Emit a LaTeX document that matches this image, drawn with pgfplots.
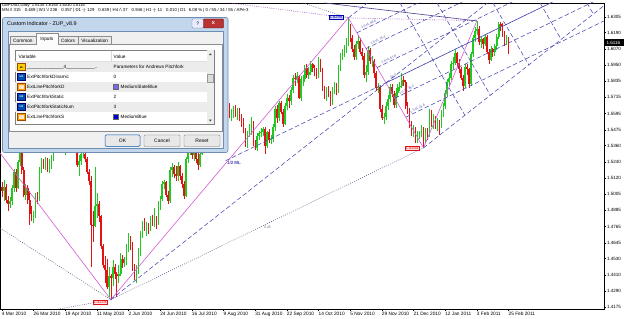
\documentclass[border=0pt]{standalone}
\usepackage{pgfplots}
\pgfplotsset{compat=1.18}
\usepackage{pgfplotstable}
\usepackage{fontspec}
\setmainfont{Liberation Sans}
\newcommand\fs[1]{\fontsize{#1}{#1}\selectfont}
\definecolor{cgreen}{HTML}{22C822}
\definecolor{cred}{HTML}{E01414}
\definecolor{pink}{HTML}{D65AD6}
\definecolor{pfblue}{HTML}{4848B4}
\definecolor{dotgray}{HTML}{56568C}
\definecolor{purpdot}{HTML}{A050C0}
\definecolor{slateline}{HTML}{4A3F8C}
\definecolor{frameblue}{HTML}{C3D7EC}
\definecolor{frameedge}{HTML}{6E8DB2}
\definecolor{rowgray}{HTML}{ECECEC}
\pgfplotsset{
  upc/.style={restrict expr to domain={\thisrow{c}-\thisrow{o}}{0:1}},
  dnc/.style={restrict expr to domain={\thisrow{c}-\thisrow{o}}{-1:-0.00001}},
  pfdash/.style={draw=pfblue, line width=0.55bp, dash pattern=on 4.5bp off 2.5bp},
  pfdot/.style={draw=dotgray, line width=0.55bp, dash pattern=on 0.8bp off 1.4bp},
}
\pgfplotstableread{
o h l c
1.5060 1.5095 1.4985 1.5030
1.5030 1.5110 1.4955 1.5060
1.5060 1.5075 1.4940 1.4960
1.4960 1.4990 1.4880 1.4930
1.4930 1.4985 1.4905 1.4950
1.4950 1.5070 1.4925 1.5050
1.5050 1.5190 1.5020 1.5170
1.5170 1.5185 1.5020 1.5050
1.5050 1.5255 1.5040 1.5240
1.5240 1.5330 1.5210 1.5310
1.5310 1.5320 1.5150 1.5180
1.5180 1.5200 1.4985 1.5000
1.5000 1.5080 1.4960 1.5050
1.5050 1.5070 1.4930 1.4960
1.4960 1.5030 1.4780 1.4860
1.4860 1.4920 1.4805 1.4840
1.4840 1.4880 1.4790 1.4850
1.4850 1.5010 1.4830 1.4990
1.4990 1.5020 1.4930 1.4960
1.4960 1.5200 1.4950 1.5180
1.5180 1.5270 1.5160 1.5240
1.5240 1.5260 1.5190 1.5220
1.5220 1.5280 1.5180 1.5250
1.5250 1.5270 1.5170 1.5200
1.5200 1.5260 1.5160 1.5240
1.5240 1.5290 1.5190 1.5270
1.5270 1.5380 1.5250 1.5360
1.5360 1.5400 1.5320 1.5380
1.5380 1.5420 1.5330 1.5380
1.5380 1.5490 1.5360 1.5470
1.5470 1.5520 1.5430 1.5480
1.5480 1.5490 1.5330 1.5350
1.5350 1.5400 1.5290 1.5380
1.5380 1.5440 1.5350 1.5410
1.5410 1.5430 1.5360 1.5390
1.5390 1.5410 1.5310 1.5330
1.5330 1.5450 1.5320 1.5420
1.5420 1.5480 1.5390 1.5410
1.5410 1.5420 1.5200 1.5220
1.5220 1.5290 1.5140 1.5250
1.5250 1.5330 1.5220 1.5300
1.5300 1.5350 1.5270 1.5300
1.5300 1.5340 1.5240 1.5260
1.5260 1.5280 1.5150 1.5170
1.5170 1.5190 1.5070 1.5100
1.5100 1.5140 1.4470 1.4780
1.4780 1.4880 1.4650 1.4770
1.4770 1.5200 1.4760 1.4920
1.4920 1.5010 1.4830 1.4930
1.4930 1.4950 1.4800 1.4840
1.4840 1.4850 1.4600 1.4620
1.4620 1.4640 1.4460 1.4480
1.4480 1.4550 1.4350 1.4450
1.4450 1.4530 1.4310 1.4320
1.4320 1.4470 1.4250 1.4400
1.4400 1.4420 1.4229 1.4390
1.4390 1.4520 1.4330 1.4470
1.4470 1.4490 1.4380 1.4420
1.4420 1.4430 1.4250 1.4400
1.4400 1.4480 1.4350 1.4420
1.4420 1.4570 1.4400 1.4530
1.4530 1.4560 1.4460 1.4500
1.4500 1.4540 1.4470 1.4520
1.4520 1.4640 1.4480 1.4620
1.4620 1.4720 1.4580 1.4660
1.4660 1.4700 1.4590 1.4630
1.4630 1.4650 1.4440 1.4460
1.4460 1.4490 1.4370 1.4430
1.4430 1.4480 1.4350 1.4450
1.4450 1.4610 1.4420 1.4590
1.4590 1.4730 1.4550 1.4710
1.4710 1.4810 1.4680 1.4790
1.4790 1.4830 1.4730 1.4760
1.4760 1.4800 1.4700 1.4780
1.4780 1.4790 1.4710 1.4750
1.4750 1.4840 1.4730 1.4820
1.4820 1.4850 1.4770 1.4800
1.4800 1.4900 1.4760 1.4810
1.4810 1.4840 1.4750 1.4800
1.4800 1.4950 1.4780 1.4930
1.4930 1.4990 1.4890 1.4970
1.4970 1.5100 1.4950 1.5080
1.5080 1.5110 1.5040 1.5090
1.5090 1.5100 1.4980 1.5000
1.5000 1.5030 1.4930 1.4950
1.4950 1.5200 1.4940 1.5180
1.5180 1.5230 1.5130 1.5200
1.5200 1.5220 1.5120 1.5150
1.5150 1.5210 1.5100 1.5140
1.5140 1.5240 1.5100 1.5210
1.5210 1.5220 1.5110 1.5140
1.5140 1.5160 1.5050 1.5080
1.5080 1.5100 1.4970 1.4990
1.4990 1.5280 1.4980 1.5260
1.5260 1.5350 1.5230 1.5330
1.5330 1.5430 1.5290 1.5380
1.5380 1.5400 1.5260 1.5290
1.5290 1.5400 1.5250 1.5380
1.5380 1.5390 1.5230 1.5260
1.5260 1.5310 1.5180 1.5220
1.5220 1.5330 1.5200 1.5300
1.5300 1.5510 1.5290 1.5480
1.5480 1.5570 1.5440 1.5540
1.5540 1.5580 1.5470 1.5500
1.5500 1.5580 1.5470 1.5550
1.5550 1.5650 1.5520 1.5620
1.5620 1.5710 1.5590 1.5690
1.5690 1.5870 1.5670 1.5850
1.5850 1.5930 1.5810 1.5900
1.5900 1.5950 1.5850 1.5920
1.5920 1.5960 1.5870 1.5940
1.5940 1.5990 1.5880 1.5920
1.5920 1.5960 1.5850 1.5880
1.5880 1.5900 1.5700 1.5720
1.5720 1.5750 1.5630 1.5650
1.5650 1.5670 1.5560 1.5580
1.5580 1.5630 1.5540 1.5600
1.5600 1.5650 1.5560 1.5610
1.5610 1.5660 1.5570 1.5590
1.5590 1.5640 1.5550 1.5600
1.5600 1.5640 1.5540 1.5570
1.5570 1.5590 1.5500 1.5540
1.5540 1.5560 1.5450 1.5470
1.5470 1.5490 1.5350 1.5370
1.5370 1.5470 1.5340 1.5450
1.5450 1.5520 1.5420 1.5480
1.5480 1.5570 1.5440 1.5530
1.5530 1.5540 1.5360 1.5380
1.5380 1.5400 1.5330 1.5340
1.5340 1.5450 1.5320 1.5430
1.5430 1.5470 1.5400 1.5450
1.5450 1.5490 1.5420 1.5460
1.5460 1.5500 1.5430 1.5480
1.5480 1.5500 1.5300 1.5360
1.5360 1.5470 1.5340 1.5460
1.5460 1.5480 1.5380 1.5400
1.5400 1.5440 1.5370 1.5410
1.5410 1.5520 1.5390 1.5500
1.5500 1.5650 1.5470 1.5630
1.5630 1.5660 1.5530 1.5560
1.5560 1.5690 1.5540 1.5670
1.5670 1.5690 1.5590 1.5610
1.5610 1.5630 1.5500 1.5520
1.5520 1.5670 1.5510 1.5650
1.5650 1.5740 1.5620 1.5710
1.5710 1.5730 1.5640 1.5690
1.5690 1.5790 1.5660 1.5770
1.5770 1.5880 1.5750 1.5860
1.5860 1.5890 1.5800 1.5850
1.5850 1.5900 1.5820 1.5870
1.5870 1.5880 1.5700 1.5710
1.5710 1.5870 1.5690 1.5850
1.5850 1.5880 1.5800 1.5850
1.5850 1.5950 1.5830 1.5930
1.5930 1.5960 1.5860 1.5880
1.5880 1.5940 1.5850 1.5900
1.5900 1.5980 1.5880 1.5960
1.5960 1.5970 1.5900 1.5930
1.5930 1.5950 1.5870 1.5910
1.5910 1.5930 1.5850 1.5880
1.5880 1.6010 1.5860 1.5990
1.5990 1.6000 1.5900 1.5920
1.5920 1.5930 1.5760 1.5780
1.5780 1.5800 1.5700 1.5720
1.5720 1.5790 1.5690 1.5770
1.5770 1.5800 1.5720 1.5750
1.5750 1.5760 1.5650 1.5680
1.5680 1.5790 1.5660 1.5770
1.5770 1.5830 1.5740 1.5800
1.5800 1.5820 1.5730 1.5770
1.5770 1.5950 1.5750 1.5930
1.5930 1.6040 1.5910 1.6020
1.6020 1.6070 1.5990 1.6040
1.6040 1.6100 1.6010 1.6080
1.6080 1.6150 1.6040 1.6110
1.6110 1.6298 1.6090 1.6220
1.6220 1.6250 1.6120 1.6150
1.6150 1.6170 1.6050 1.6070
1.6070 1.6100 1.5990 1.6010
1.6010 1.6130 1.5990 1.6110
1.6110 1.6170 1.6070 1.6130
1.6130 1.6150 1.6030 1.6050
1.6050 1.6080 1.5990 1.6020
1.6020 1.6040 1.5860 1.5880
1.5880 1.5950 1.5830 1.5900
1.5900 1.6090 1.5880 1.6060
1.6060 1.6080 1.5960 1.5980
1.5980 1.6020 1.5940 1.5980
1.5980 1.6000 1.5860 1.5890
1.5890 1.5910 1.5760 1.5780
1.5780 1.5820 1.5750 1.5790
1.5790 1.5800 1.5610 1.5630
1.5630 1.5660 1.5550 1.5560
1.5560 1.5600 1.5520 1.5570
1.5570 1.5680 1.5550 1.5650
1.5650 1.5730 1.5620 1.5700
1.5700 1.5810 1.5680 1.5790
1.5790 1.5810 1.5720 1.5740
1.5740 1.5760 1.5640 1.5660
1.5660 1.5780 1.5640 1.5750
1.5750 1.5810 1.5720 1.5790
1.5790 1.5830 1.5760 1.5800
1.5800 1.5890 1.5780 1.5840
1.5840 1.5870 1.5800 1.5830
1.5830 1.5840 1.5630 1.5650
1.5650 1.5680 1.5590 1.5620
1.5620 1.5640 1.5490 1.5510
1.5510 1.5540 1.5430 1.5450
1.5450 1.5510 1.5420 1.5480
1.5480 1.5500 1.5380 1.5400
1.5400 1.5470 1.5380 1.5440
1.5440 1.5470 1.5410 1.5440
1.5440 1.5510 1.5420 1.5490
1.5490 1.5500 1.5344 1.5430
1.5430 1.5490 1.5380 1.5460
1.5460 1.5490 1.5400 1.5440
1.5440 1.5630 1.5420 1.5610
1.5610 1.5620 1.5500 1.5520
1.5520 1.5590 1.5480 1.5560
1.5560 1.5580 1.5480 1.5510
1.5510 1.5560 1.5470 1.5520
1.5520 1.5550 1.5440 1.5510
1.5510 1.5620 1.5490 1.5600
1.5600 1.5670 1.5570 1.5650
1.5650 1.5770 1.5630 1.5750
1.5750 1.5850 1.5720 1.5830
1.5830 1.5890 1.5800 1.5860
1.5860 1.5980 1.5840 1.5960
1.5960 1.6010 1.5920 1.5970
1.5970 1.6060 1.5950 1.6040
1.6040 1.6050 1.5940 1.5970
1.5970 1.6000 1.5890 1.5920
1.5920 1.5940 1.5840 1.5860
1.5860 1.5880 1.5760 1.5800
1.5800 1.5960 1.5780 1.5940
1.5940 1.5960 1.5880 1.5920
1.5920 1.5930 1.5780 1.5810
1.5810 1.6050 1.5800 1.6030
1.6030 1.6170 1.6010 1.6150
1.6150 1.6230 1.6120 1.6200
1.6200 1.6278 1.6170 1.6220
1.6220 1.6240 1.6100 1.6120
1.6120 1.6160 1.6080 1.6140
1.6140 1.6150 1.6070 1.6110
1.6110 1.6180 1.6090 1.6160
1.6160 1.6170 1.6030 1.6050
1.6050 1.6070 1.5960 1.5990
1.5990 1.6090 1.5980 1.6070
1.6070 1.6080 1.6010 1.6050
1.6050 1.6110 1.6020 1.6090
1.6090 1.6180 1.6060 1.6160
1.6160 1.6270 1.6140 1.6250
1.6250 1.6270 1.6200 1.6240
1.6240 1.6260 1.6160 1.6180
1.6180 1.6200 1.6090 1.6130
1.6130 1.6170 1.6100 1.6135
1.6135 1.6160 1.6030 1.6116
}\candles
\begin{document}
\begin{tikzpicture}
\path[use as bounding box, fill=white] (0,0) rectangle (625bp,319bp);
\begin{axis}[
  at={(0,10bp)}, anchor=south west,
  scale only axis, width=604bp, height=306bp,
  xmin=-1.01, xmax=304.2, ymin=1.41603, ymax=1.64078,
  axis line style={draw=black, line width=0.6bp},
  xtick={0,16,...,256},
  xticklabels={4 Mar 2010,26 Mar 2010,19 Apr 2010,11 May 2010,2 Jun 2010,24 Jun 2010,16 Jul 2010,9 Aug 2010,31 Aug 2010,22 Sep 2010,14 Oct 2010,5 Nov 2010,29 Nov 2010,21 Dec 2010,12 Jan 2011,3 Feb 2011,25 Feb 2011},
  ytick={1.4175,1.4290,1.4410,1.4530,1.4645,1.4765,1.4885,1.5005,1.5120,1.5240,1.5360,1.5475,1.5595,1.5715,1.5835,1.5950,1.6070,1.6190,1.6305},
  yticklabels={1.4175,1.4290,1.4410,1.4530,1.4645,1.4765,1.4885,1.5005,1.5120,1.5240,1.5360,1.5475,1.5595,1.5715,1.5835,1.5950,1.6070,1.6190,1.6305},
  xtick pos=bottom, ytick pos=right, yticklabel pos=right,
  tick align=outside, major tick length=2bp,
  tick style={black, line width=0.5bp},
  xticklabel style={font=\fs{4.8}, anchor=north west, inner sep=0.6bp, xshift=-0.8bp},
  yticklabel style={font=\fs{4.6}, anchor=west, inner sep=0.8bp},
  clip=true,
]
% wicks
\addplot[draw=none, mark=none, upc, error bars/.cd, y dir=plus, y explicit, error mark=none,
  error bar style={draw=cgreen, solid, line width=0.6bp}]
  table[x expr=\coordindex, y=l, y error expr=\thisrow{h}-\thisrow{l}] {\candles};
\addplot[draw=none, mark=none, dnc, error bars/.cd, y dir=plus, y explicit, error mark=none,
  error bar style={draw=cred, solid, line width=0.6bp}]
  table[x expr=\coordindex, y=l, y error expr=\thisrow{h}-\thisrow{l}] {\candles};
% bodies
\addplot[draw=none, mark=none, upc, error bars/.cd, y dir=plus, y explicit, error mark=none,
  error bar style={draw=cgreen, solid, line width=1.6bp}]
  table[x expr=\coordindex, y=o, y error expr=\thisrow{c}-\thisrow{o}] {\candles};
\addplot[draw=none, mark=none, dnc, error bars/.cd, y dir=plus, y explicit, error mark=none,
  error bar style={draw=cred, solid, line width=1.6bp}]
  table[x expr=\coordindex, y=c, y error expr=\thisrow{o}-\thisrow{c}] {\candles};
% zigzag
\addplot[pink, line width=0.6bp, mark=none] coordinates {(-1.01,1.5306) (55,1.4229) (175,1.6298) (213,1.5344) (240,1.6278)};
% dotted lines
\addplot[pfdot, mark=none] coordinates {(-1.01,1.4755) (55,1.4229)};
\addplot[pfdot, mark=none] coordinates {(25,1.4150) (55,1.4229)};
\addplot[pfdot, mark=none] coordinates {(55,1.4229) (213,1.5344)};
\addplot[draw=purpdot, line width=0.6bp, dash pattern=on 0.8bp off 1.4bp, mark=none] coordinates {(175,1.6298) (240,1.6278)};
\addplot[draw=purpdot, line width=0.6bp, dash pattern=on 0.8bp off 1.4bp, mark=none] coordinates {(115.2,1.6408) (175,1.6298)};
\addplot[pfdot, mark=none] coordinates {(152.1,1.6408) (175,1.6298)};
\addplot[draw=slateline, line width=0.6bp, mark=none] coordinates {(163,1.6408) (240,1.6276)};
% pitchfork
\addplot[pfdash, mark=none] coordinates {(55,1.4229) (245.3,1.6408)};
\addplot[pfdash, mark=none] coordinates {(213,1.5344) (305.9,1.6408)};
\addplot[pfdash, mark=none] coordinates {(175,1.6298) (184.6,1.6408)};
\addplot[pfdash, mark=none] coordinates {(113,1.52494) (277.2,1.6408)};
\addplot[pfdash, mark=none] coordinates {(204.03,1.55691) (324.03,1.64159)};
\addplot[pfdash, mark=none] coordinates {(198.48,1.57084) (318.48,1.65552)};
\addplot[pfdash, mark=none] coordinates {(194,1.5821) (314,1.66678)};
\addplot[pfdash, mark=none] coordinates {(189.52,1.59336) (309.52,1.67804)};
\addplot[pfdash, mark=none] coordinates {(183.97,1.60729) (303.97,1.69197)};
\addplot[pfdash, mark=none] coordinates {(179.33,1.61893) (299.33,1.70361)};
\addplot[pfdash, mark=none] coordinates {(201.1,1.6408) (233.9,1.55834)};
\addplot[pfdash, mark=none] coordinates {(219.8,1.6408) (246.77,1.57308)};
\addplot[pfdash, mark=none] coordinates {(248.1,1.6408) (266.2,1.59533)};
\addplot[pfdash, mark=none] coordinates {(271.9,1.6408) (282.55,1.61406)};
\addplot[pfdash, mark=none] coordinates {(295.6,1.6408) (298.8,1.63267)};
% fib labels
\node[font=\fs{3.2}, text=pfblue, anchor=south west, rotate=26, inner sep=0.3bp] at (axis cs:206.5,1.5594) {1.5 t/L 23.6};
\node[font=\fs{3.2}, text=pfblue, anchor=south west, rotate=26, inner sep=0.3bp] at (axis cs:201,1.5733) {1.5 t/L 38.2};
\node[font=\fs{3.2}, text=pfblue, anchor=south west, rotate=26, inner sep=0.3bp] at (axis cs:196.5,1.5846) {50.0};
\node[font=\fs{3.2}, text=pfblue, anchor=south west, rotate=26, inner sep=0.3bp] at (axis cs:192,1.5958) {1.5 t/L 61.8};
\node[font=\fs{3.2}, text=pfblue, anchor=south west, rotate=26, inner sep=0.3bp] at (axis cs:186.5,1.6098) {1.5 t/L 76.4};
\node[font=\fs{3.2}, text=pfblue, anchor=south west, rotate=26, inner sep=0.3bp] at (axis cs:181.8,1.6214) {1.5 t/L 88.6};
\end{axis}
\begin{scope}[x=1bp, y=-1bp, yshift=319bp]
% header texts
\node[anchor=west, font=\fs{4.1}, inner sep=0] at (2,5) {GBPUSD,Daily\ \ 1.6135 1.6160 1.6030 1.6116};
\node[anchor=west, font=\fs{4.3}, inner sep=0] at (2,10.8) {MN /\textbackslash\ 315\hspace{4bp}0.489\ |\ W1 \textbackslash/ 238\hspace{4bp}0.357\ |\ D1 -|- 129\hspace{4bp}0.639\ |\ H4 /\textbackslash\ 37\hspace{4bp}0.946\ |\ H1 -|- 11\hspace{4bp}0.010\ |\ D1\hspace{3bp}6.08 \%\ |\ 0 / 55 / 34 / 55 / APe-3};
% price labels
\node[draw=cred, fill=red!12, text=cred, font=\fs{4.2}, inner sep=0.5bp] at (100,302) {1.4229};
\node[draw=cred, fill=red!12, text=cred, font=\fs{4.2}, inner sep=0.5bp] at (412,148) {1.5344};
\node[draw=blue!70!black, fill=blue!18, text=blue!70!black, font=\fs{4.2}, inner sep=0.5bp] at (336,17) {1.6298};
\node[font=\fs{4.5}\bfseries, text=pfblue, inner sep=0] at (234,162.5) {1/2 ML};
\node[font=\fs{3.6}, text=gray, inner sep=0] at (267.5,227) {0.45};
% current price box
\fill[black] (604.5,39.3) rectangle (624,46.2);
\node[text=white, font=\fs{4.6}, anchor=west, inner sep=0] at (606.3,42.8) {1.6116};
% ===== dialog =====
\draw[fill=frameblue, draw=frameedge, rounded corners=2bp, line width=0.6bp] (2.5,17.5) rectangle (228,152.5);
\node[anchor=west, font=\fs{5.4}, inner sep=0] at (7,24) {Custom Indicator - ZUP\_v8.9};
\draw[fill=blue!8!white, draw=frameedge, rounded corners=1bp, line width=0.4bp] (192,19) rectangle (203.5,28);
\node[font=\fs{5}, inner sep=0] at (197.8,23.5) {?};
\draw[fill=red!65!black!80!white, draw=red!40!black, rounded corners=1bp, line width=0.4bp] (203.5,19) rectangle (223.5,28);
\node[font=\fs{5.5}\bfseries, text=white, inner sep=0] at (213.5,23.4) {x};
\draw[fill=black!6, draw=frameedge, line width=0.4bp] (8,31) rectangle (223,148);
% tab panel
\draw[fill=black!1, draw=black!45, line width=0.4bp] (9.5,44.5) rectangle (222,131);
% tabs
\draw[fill=black!8, draw=black!45, line width=0.4bp] (10,36) rectangle (35.8,44.5);
\node[font=\fs{4.8}, inner sep=0] at (22.9,40.6) {Common};
\draw[fill=black!8, draw=black!45, line width=0.4bp] (57.8,36) rectangle (78.5,44.5);
\node[font=\fs{4.8}, inner sep=0] at (68.1,40.6) {Colors};
\draw[fill=black!8, draw=black!45, line width=0.4bp] (78.5,36) rectangle (111,44.5);
\node[font=\fs{4.8}, inner sep=0] at (94.7,40.6) {Visualization};
\fill[black!1] (35.8,33.5) rectangle (57.8,45);
\draw[black!45, line width=0.4bp] (35.8,45) -- (35.8,33.5) -- (57.8,33.5) -- (57.8,45);
\node[font=\fs{4.8}, inner sep=0] at (46.8,39.3) {Inputs};
% list box
\draw[fill=white, draw=black!50, line width=0.4bp] (15,50) rectangle (214,124.5);
\draw[black!12, line width=0.4bp] (15.3,61.5) -- (207,61.5);
\draw[black!15, line width=0.4bp] (111.5,51) -- (111.5,61.5);
\node[anchor=west, font=\fs{4.8}, inner sep=0] at (18.5,56.3) {Variable};
\node[anchor=west, font=\fs{4.8}, inner sep=0] at (113.5,56.3) {Value};
\foreach \k in {0,2,4} { \fill[rowgray] (15.4,{62+10*\k}) rectangle (207,{72+10*\k}); }
% scrollbar
\fill[black!7] (207,50.4) rectangle (213.6,124.1);
\draw[fill=black!14, draw=black!40, line width=0.3bp] (207.6,74.5) rectangle (213,82);
\fill[black!75] (208.8,55.2) -- (211.8,55.2) -- (210.3,53.4) -- cycle;
\fill[black!75] (208.8,119.6) -- (211.8,119.6) -- (210.3,121.4) -- cycle;
% icons
\draw[fill=yellow!65!orange, draw=orange!60!black, line width=0.3bp] (17.6,63.6) rectangle (25,70.6);
\node[font=\fs{2.6}\bfseries, inner sep=0] at (21.3,67.1) {ab};
\foreach \yy in {77,97,107} {
  \draw[fill=blue!55!cyan!70!black, draw=blue!40!black, line width=0.3bp] (17.6,\yy-3.5) rectangle (25,\yy+3.5);
  \node[font=\fs{2.4}\bfseries, text=white, inner sep=0] at (21.3,\yy) {123};
}
\foreach \yy in {87,117} {
  \draw[fill=orange!75!yellow, draw=orange!60!black, line width=0.3bp] (17.6,\yy-3.5) rectangle (25,\yy+3.5);
  \fill[white!80!orange] (19,\yy-2) rectangle (23.6,\yy+2);
}
% row texts
\node[anchor=west, font=\fs{4.7}, inner sep=0] at (27,67) {\_\_\_\_\_\_\_\_\_\_\_\_\_\_4\_\_\_\_\_\_\_\_\_\_\_..};
\node[anchor=west, font=\fs{4.7}, inner sep=0] at (27,77) {ExtPitchforkDinamic};
\node[anchor=west, font=\fs{4.7}, inner sep=0] at (27,87) {ExtLinePitchforkD};
\node[anchor=west, font=\fs{4.7}, inner sep=0] at (27,97) {ExtPitchforkStatic};
\node[anchor=west, font=\fs{4.7}, inner sep=0] at (27,107) {ExtPitchforkStaticNum};
\node[anchor=west, font=\fs{4.7}, inner sep=0] at (27,117) {ExtLinePitchforkS};
\node[anchor=west, font=\fs{4.7}, inner sep=0] at (113.5,67) {Parameters for Andrews Pitchfork};
\node[anchor=west, font=\fs{4.7}, inner sep=0] at (113.5,77) {0};
\draw[fill={rgb,255:red,123;green,104;blue,238}, draw=black!60, line width=0.3bp] (113.5,84.3) rectangle (118.6,89.6);
\node[anchor=west, font=\fs{4.7}, inner sep=0] at (120.5,87) {MediumSlateBlue};
\node[anchor=west, font=\fs{4.7}, inner sep=0] at (113.5,97) {2};
\node[anchor=west, font=\fs{4.7}, inner sep=0] at (113.5,107) {3};
\draw[fill={rgb,255:red,0;green,0;blue,205}, draw=black!60, line width=0.3bp] (113.5,114.3) rectangle (118.6,119.6);
\node[anchor=west, font=\fs{4.7}, inner sep=0] at (120.5,117) {MediumBlue};
% buttons
\draw[fill=black!9, draw=blue!50!cyan!70!black, rounded corners=1.2bp, line width=0.5bp] (105,135) rectangle (140,146.5);
\node[font=\fs{5}, inner sep=0] at (122.5,140.8) {OK};
\draw[fill=black!9, draw=black!55, rounded corners=1.2bp, line width=0.4bp] (144,135) rectangle (180,146.5);
\node[font=\fs{5}, inner sep=0] at (162,140.8) {Cancel};
\draw[fill=black!9, draw=black!55, rounded corners=1.2bp, line width=0.4bp] (184,135) rectangle (220,146.5);
\node[font=\fs{5}, inner sep=0] at (202,140.8) {Reset};
\end{scope}
\end{tikzpicture}
\end{document}
